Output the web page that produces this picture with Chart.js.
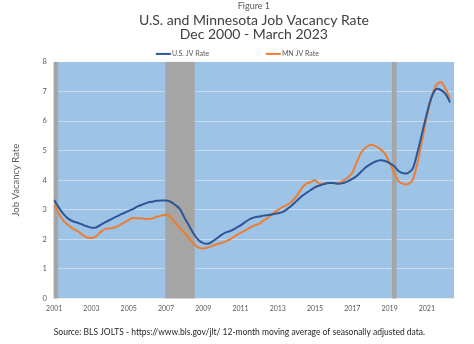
<!DOCTYPE html>
<html>
<head>
<meta charset="utf-8">
<script src="https://cdn.jsdelivr.net/npm/chart.js@4"></script>
<style>
  html, body { margin: 0; padding: 0; background: #fff; }
  #wrap { width: 474px; height: 344px; }
</style>
</head>
<body>
<div id="wrap"><canvas id="jv-chart"></canvas></div>
<script>
// 12-month moving averages, sampled quarterly (Dec 2001 - Mar 2023)
const months = [
  "2001-12", "2002-03", "2002-06", "2002-09", "2002-12", "2003-03", "2003-06", "2003-09",
  "2003-12", "2004-03", "2004-06", "2004-09", "2004-12", "2005-03", "2005-06", "2005-09",
  "2005-12", "2006-03", "2006-06", "2006-09", "2006-12", "2007-03", "2007-06", "2007-09",
  "2007-12", "2008-03", "2008-06", "2008-09", "2008-12", "2009-03", "2009-06", "2009-09",
  "2009-12", "2010-03", "2010-06", "2010-09", "2010-12", "2011-03", "2011-06", "2011-09",
  "2011-12", "2012-03", "2012-06", "2012-09", "2012-12", "2013-03", "2013-06", "2013-09",
  "2013-12", "2014-03", "2014-06", "2014-09", "2014-12", "2015-03", "2015-06", "2015-09",
  "2015-12", "2016-03", "2016-06", "2016-09", "2016-12", "2017-03", "2017-06", "2017-09",
  "2017-12", "2018-03", "2018-06", "2018-09", "2018-12", "2019-03", "2019-06", "2019-09",
  "2019-12", "2020-03", "2020-06", "2020-09", "2020-12", "2021-03", "2021-06", "2021-09",
  "2021-12", "2022-03", "2022-06", "2022-09", "2022-12", "2023-03",
];

const usRate = [
  3.33, 3.07, 2.85, 2.70, 2.61, 2.56, 2.50, 2.44,
  2.39, 2.40, 2.49, 2.58, 2.66, 2.74, 2.82, 2.89,
  2.96, 3.03, 3.12, 3.18, 3.24, 3.27, 3.30, 3.31,
  3.31, 3.27, 3.16, 3.02, 2.72, 2.45, 2.17, 1.97,
  1.87, 1.85, 1.93, 2.04, 2.16, 2.24, 2.29, 2.38,
  2.47, 2.58, 2.68, 2.74, 2.77, 2.80, 2.82, 2.85,
  2.88, 2.92, 3.02, 3.14, 3.29, 3.44, 3.55, 3.66,
  3.76, 3.82, 3.87, 3.90, 3.90, 3.88, 3.90, 3.96,
  4.04, 4.15, 4.30, 4.45, 4.55, 4.63, 4.67, 4.65,
  4.58, 4.47, 4.30, 4.23, 4.25, 4.40, 4.95, 5.60,
  6.25, 6.80, 7.08, 7.05, 6.92, 6.63,
];

const mnRate = [
  3.16, 2.87, 2.62, 2.48, 2.36, 2.28, 2.16, 2.07,
  2.04, 2.10, 2.25, 2.35, 2.37, 2.40, 2.47, 2.56,
  2.66, 2.72, 2.71, 2.70, 2.69, 2.70, 2.76, 2.80,
  2.83, 2.75, 2.55, 2.38, 2.21, 2.02, 1.84, 1.72,
  1.69, 1.72, 1.78, 1.84, 1.88, 1.94, 2.02, 2.13,
  2.22, 2.30, 2.39, 2.47, 2.52, 2.64, 2.74, 2.88,
  2.99, 3.09, 3.16, 3.28, 3.45, 3.70, 3.87, 3.93,
  4.00, 3.87, 3.89, 3.90, 3.90, 3.90, 3.98, 4.08,
  4.25, 4.62, 4.95, 5.12, 5.20, 5.15, 5.05, 4.90,
  4.60, 4.25, 3.95, 3.87, 3.87, 4.02, 4.60, 5.36,
  6.15, 6.80, 7.20, 7.32, 7.10, 6.74,
];

// year labels sit on each December
const tickMonths = ["2001-12", "2003-12", "2005-12", "2007-12", "2009-12", "2011-12",
  "2013-12", "2015-12", "2017-12", "2019-12", "2021-12"];
const tickLabels = ["2001", "2003", "2005", "2007", "2009", "2011",
  "2013", "2015", "2017", "2019", "2021"];

// recession shading, first and last month
const recessions = [["2001-03", "2002-02"], ["2007-12", "2009-06"], ["2020-02", "2020-04"]];

const FONT = "Lato";
const TEXT = "#595959";

// months counted from Dec 2001
function monthIndex(s) {
  const [y, m] = s.split("-").map(Number);
  return (y - 2001) * 12 + m - 12;
}

const plotBackground = {
  id: "plotBackground",
  beforeDraw(chart) {
    const { ctx, chartArea: a } = chart;
    ctx.save();
    ctx.fillStyle = "#9DC3E6";
    ctx.fillRect(a.left, a.top, a.right - a.left, a.bottom - a.top);
    ctx.restore();
  },
  beforeDatasetsDraw(chart) {
    const { ctx, chartArea: a } = chart;
    const x = chart.scales.x;
    ctx.save();
    ctx.fillStyle = "#A5A5A5";
    recessions.forEach(([from, to]) => {
      const x0 = Math.max(a.left, x.getPixelForValue(monthIndex(from) - 0.5));
      const x1 = Math.min(a.right, x.getPixelForValue(monthIndex(to) + 0.5));
      if (x1 > x0) ctx.fillRect(x0, a.top, x1 - x0, a.bottom - a.top);
    });
    ctx.restore();
  },
};

// two-item legend row between the title and the plot
const lineLegend = {
  id: "lineLegend",
  afterDraw(chart) {
    const { ctx, chartArea: a } = chart;
    const cx = (a.left + a.right) / 2;
    const y = a.top - 8;
    const starts = [cx - 98, cx + 12];
    ctx.save();
    ctx.font = "7px " + FONT;
    ctx.textBaseline = "middle";
    ctx.fillStyle = TEXT;
    chart.data.datasets.forEach((ds, i) => {
      const x0 = starts[i];
      ctx.strokeStyle = ds.borderColor;
      ctx.lineWidth = 2;
      ctx.beginPath();
      ctx.moveTo(x0, y);
      ctx.lineTo(x0 + 15, y);
      ctx.stroke();
      ctx.fillText(ds.label, x0 + 16, y);
    });
    ctx.restore();
  },
};

const toPoints = (vals) => vals.map((v, i) => ({ x: monthIndex(months[i]), y: v }));

new Chart(document.getElementById("jv-chart"), {
  type: "line",
  data: {
    datasets: [
      {
        label: "U.S. JV Rate",
        data: toPoints(usRate),
        borderColor: "#2E5596",
        borderWidth: 2,
        pointRadius: 0,
        tension: 0.3,
      },
      {
        label: "MN JV Rate",
        data: toPoints(mnRate),
        borderColor: "#ED7D31",
        borderWidth: 2,
        pointRadius: 0,
        tension: 0.3,
      },
    ],
  },
  options: {
    responsive: true,
    maintainAspectRatio: false,
    animation: false,
    layout: { padding: { left: 3, right: 20, top: 0, bottom: 0 } },
    plugins: {
      legend: { display: false },
      tooltip: { enabled: false },
      title: {
        display: true,
        fullSize: false,
        text: "Figure 1",
        color: TEXT,
        font: { family: FONT, size: 9, weight: "normal", lineHeight: 1.2 },
        padding: { top: 1, bottom: 1 },
      },
      subtitle: {
        display: true,
        fullSize: false,
        text: ["U.S. and Minnesota Job Vacancy Rate", "Dec 2000 - March 2023"],
        color: "#404040",
        font: { family: FONT, size: 14, weight: "normal", lineHeight: 1.04 },
        padding: { top: 0, bottom: 20 },
      },
    },
    scales: {
      x: {
        type: "linear",
        min: -0.3,
        max: 257.5,
        afterBuildTicks: (scale) => {
          scale.ticks = tickMonths.map((m) => ({ value: monthIndex(m) }));
        },
        ticks: {
          color: TEXT,
          font: { family: FONT, size: 7 },
          padding: 6,
          maxRotation: 0,
          autoSkip: false,
          callback: (v) => tickLabels[tickMonths.findIndex((m) => monthIndex(m) === v)],
        },
        grid: { display: false, drawTicks: false },
        border: { display: false },
        title: {
          display: true,
          align: "start",
          text: "Source: BLS JOLTS - https://www.bls.gov/jlt/ 12-month moving average of seasonally adjusted data.",
          color: "#262626",
          font: { family: FONT, size: 8.5 },
          padding: { top: 8, bottom: 7 },
        },
      },
      y: {
        min: 0,
        max: 8,
        ticks: {
          stepSize: 1,
          color: TEXT,
          font: { family: FONT, size: 7.5 },
          padding: 7,
        },
        grid: { color: "rgba(255,255,255,0.4)", lineWidth: 1, drawTicks: false },
        border: { display: false },
        title: {
          display: true,
          text: "Job Vacancy Rate",
          color: TEXT,
          font: { family: FONT, size: 9.5 },
          padding: { top: 7, bottom: 14 },
        },
      },
    },
  },
  plugins: [plotBackground, lineLegend],
});
</script>
</body>
</html>
